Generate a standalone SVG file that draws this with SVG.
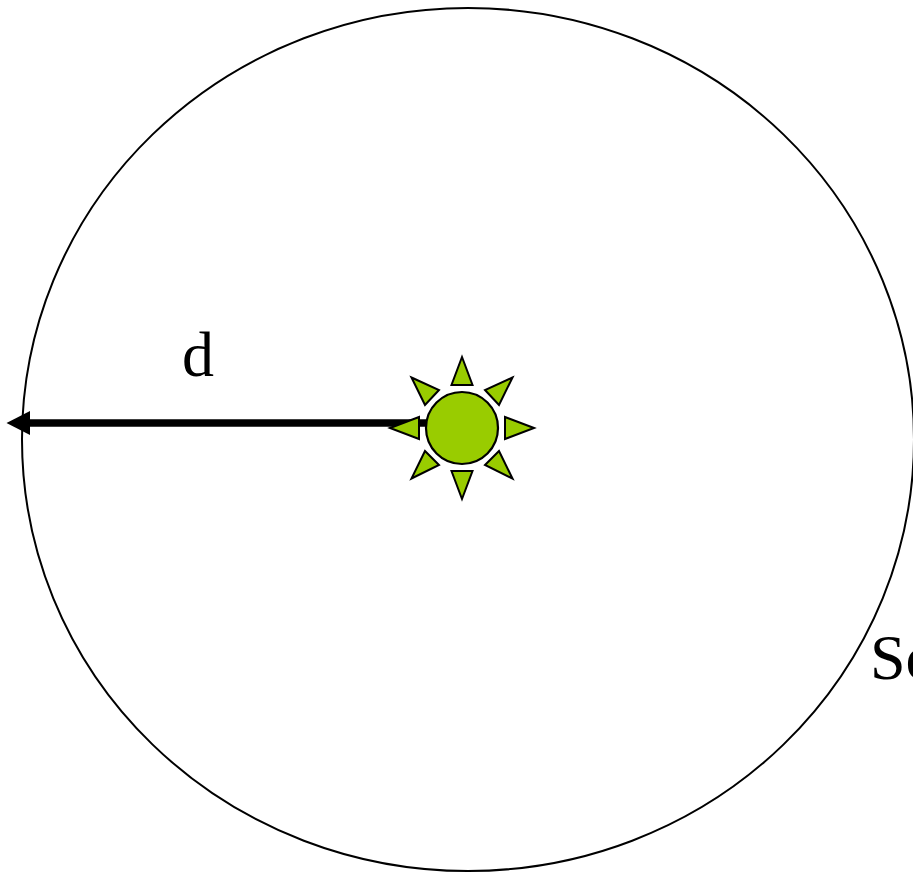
<svg xmlns="http://www.w3.org/2000/svg" width="913" height="874" viewBox="0 0 913 874">
<style>
.ray{fill:#99cc00;stroke:#000;stroke-width:2;stroke-linejoin:miter}
.lbl{font-family:"Liberation Serif","Times New Roman",serif;font-size:64px;fill:#000}
</style>
<rect width="913" height="874" fill="#fff"/>
<g id="orbit"><ellipse cx="468" cy="439.5" rx="446" ry="431.5" fill="none" stroke="#000" stroke-width="2"/></g>
<g id="connectors">
<line x1="427" y1="423" x2="28" y2="423" stroke="#000" stroke-width="7.500"/>
<polygon points="6.500,423 30,411 30,435" fill="#000"/>
</g>
<g id="sun">
<circle cx="462" cy="428" r="36" fill="#99cc00" stroke="#000" stroke-width="2.200"/>
<polygon class="ray" points="462,357 451.500,385 472.500,385"/>
<polygon class="ray" points="512.500,377.500 485,390 499,405"/>
<polygon class="ray" points="534,428 505,417 505,439"/>
<polygon class="ray" points="512.500,478.500 485,465 499,451"/>
<polygon class="ray" points="462,499 451.500,471 472.500,471"/>
<polygon class="ray" points="411.500,478.500 439,465 425,451"/>
<polygon class="ray" points="390,428 419,417 419,439"/>
<polygon class="ray" points="411.500,377.500 439,390 425,405"/>
</g>
<g id="label-d"><text class="lbl" x="182" y="376">d</text></g>
<g id="label-so"><text class="lbl" x="870" y="679">So</text></g>
</svg>
